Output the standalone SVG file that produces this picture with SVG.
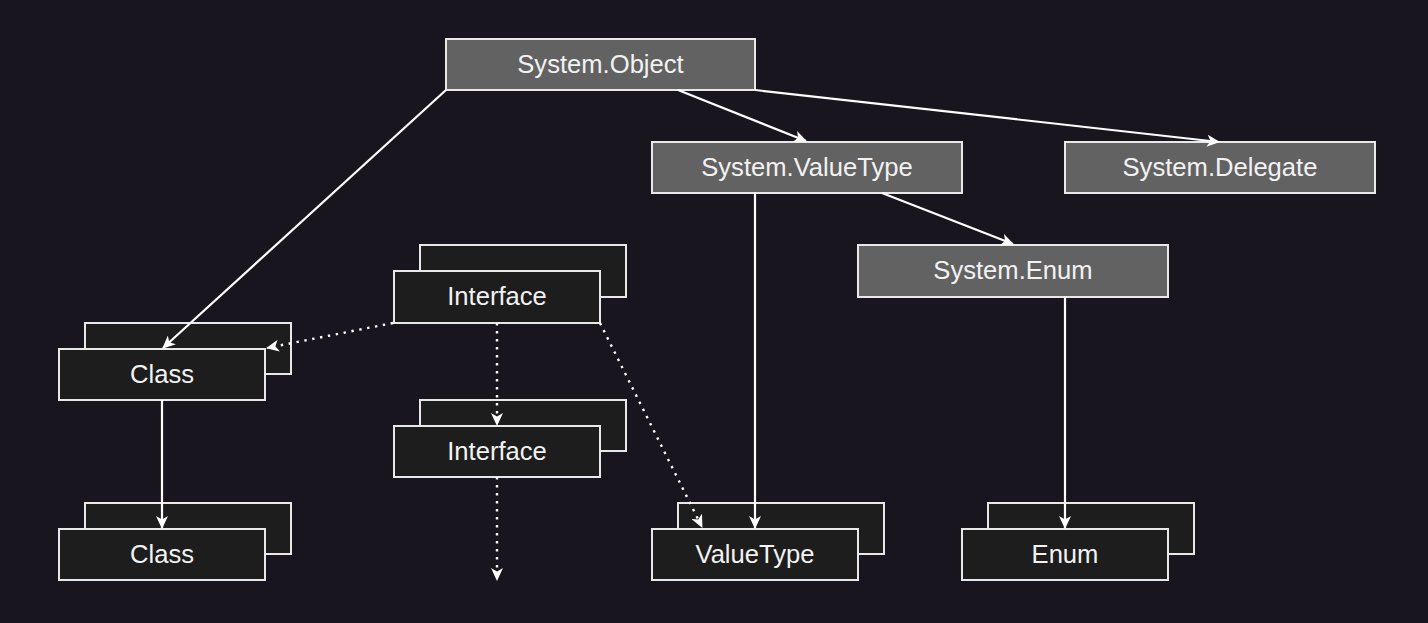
<svg xmlns="http://www.w3.org/2000/svg" width="1428" height="623" viewBox="0 0 1428 623">
<style>
.bg{fill:#18151f}
.sys{fill:#626262;stroke:#e8e8e8;stroke-width:2}
.box{fill:#1d1d1d;stroke:#e8e8e8;stroke-width:2}
.lbl{font-family:"Liberation Sans",Arial,sans-serif;font-size:25.6px;fill:#f2f2f2;text-anchor:middle}
.edge{stroke:#ffffff;stroke-width:2.2;fill:none;marker-end:url(#arr)}
.dot{stroke:#ffffff;stroke-width:2.4;fill:none;stroke-dasharray:2.4 5.6;marker-end:url(#arr)}
</style>
<defs>
<marker id="arr" viewBox="0 0 13 12" refX="12" refY="6" markerWidth="13" markerHeight="12" markerUnits="userSpaceOnUse" orient="auto">
<path d="M0,0 L13,6 L0,12 L3.5,6 Z" fill="#ffffff"/>
</marker>
</defs>
<rect class="bg" x="0" y="0" width="1428" height="623"/>

<g id="n-class1">
<rect class="box" x="85" y="323" width="206" height="51"/>
<rect class="box" x="59" y="349" width="206" height="51"/>
<text class="lbl" x="162" y="383">Class</text>
</g>
<g id="n-class2">
<rect class="box" x="85" y="503" width="206" height="51"/>
<rect class="box" x="59" y="529" width="206" height="51"/>
<text class="lbl" x="162" y="563">Class</text>
</g>
<g id="n-interface1">
<rect class="box" x="420" y="245" width="206" height="52"/>
<rect class="box" x="394" y="271" width="206" height="52"/>
<text class="lbl" x="497" y="305">Interface</text>
</g>
<g id="n-interface2">
<rect class="box" x="420" y="400" width="206" height="51"/>
<rect class="box" x="394" y="426" width="206" height="51"/>
<text class="lbl" x="497" y="460">Interface</text>
</g>
<g id="n-valuetype">
<rect class="box" x="678" y="503" width="206" height="51"/>
<rect class="box" x="652" y="529" width="206" height="51"/>
<text class="lbl" x="755" y="563">ValueType</text>
</g>
<g id="n-enum">
<rect class="box" x="988" y="503" width="206" height="51"/>
<rect class="box" x="962" y="529" width="206" height="51"/>
<text class="lbl" x="1065" y="563">Enum</text>
</g>
<g id="n-sysobject">
<rect class="sys" x="446" y="39" width="309" height="51"/>
<text class="lbl" x="600.5" y="73">System.Object</text>
</g>
<g id="n-sysvaluetype">
<rect class="sys" x="652" y="142" width="310" height="51"/>
<text class="lbl" x="807" y="176">System.ValueType</text>
</g>
<g id="n-sysdelegate">
<rect class="sys" x="1065" y="142" width="310" height="51"/>
<text class="lbl" x="1220" y="176">System.Delegate</text>
</g>
<g id="n-sysenum">
<rect class="sys" x="858" y="245" width="310" height="52"/>
<text class="lbl" x="1013" y="279">System.Enum</text>
</g>

<g id="connectors">
<line class="edge" x1="446" y1="90" x2="163" y2="348"/>
<line class="edge" x1="678" y1="90" x2="806" y2="141"/>
<line class="edge" x1="755" y1="90" x2="1219" y2="142"/>
<line class="edge" x1="882" y1="193" x2="1013" y2="244"/>
<line class="edge" x1="755" y1="193" x2="755" y2="528"/>
<line class="edge" x1="1065" y1="297" x2="1065" y2="528"/>
<line class="edge" x1="162" y1="400" x2="162" y2="528"/>
<line class="dot" x1="393" y1="323" x2="267" y2="348"/>
<line class="dot" x1="497" y1="323" x2="497" y2="425"/>
<line class="dot" x1="600" y1="323" x2="702" y2="527"/>
<line class="dot" x1="497" y1="477" x2="497" y2="580"/>
</g>
</svg>
